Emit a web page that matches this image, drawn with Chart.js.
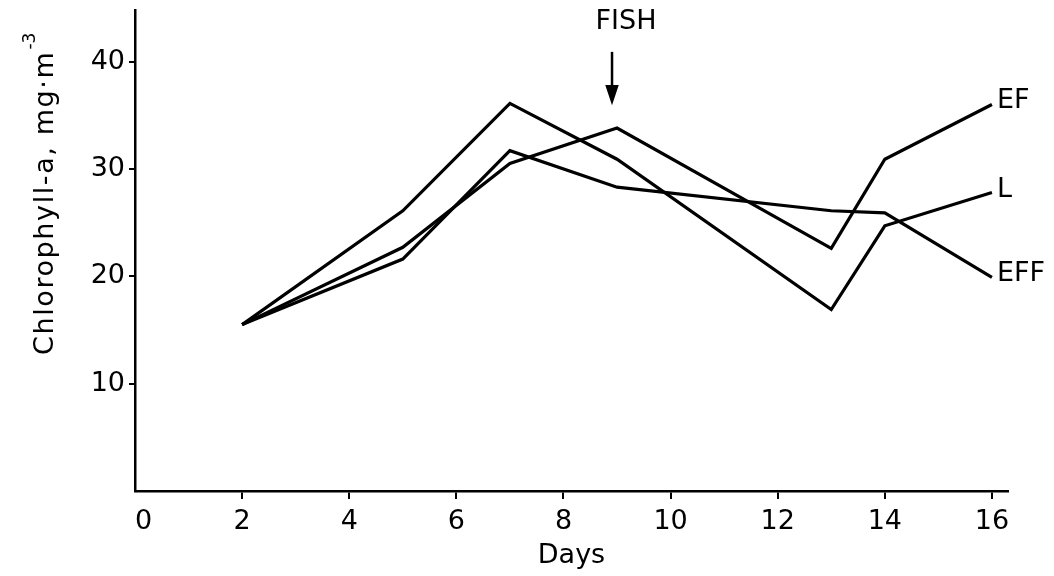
<!DOCTYPE html>
<html>
<head>
<meta charset="utf-8">
<script src="https://cdn.jsdelivr.net/npm/chart.js@4"></script>
<style>
html, body { margin: 0; background: #fff; }
#wrap { width: 1054px; height: 576px; }
</style>
</head>
<body>
<div id="wrap"><canvas id="chart"></canvas></div>
<script>
// values
const days = [2, 5, 7, 9, 13, 14, 16];
const efValues = [15.5, 22.7, 30.5, 33.8, 22.6, 30.9, 36.0];
const lValues = [15.5, 26.1, 36.1, 30.9, 16.9, 24.7, 27.8];
const effValues = [15.5, 21.6, 31.7, 28.3, 26.1, 25.9, 19.9];
const seriesNames = ['EF', 'L', 'EFF'];
const xTicks = [0, 2, 4, 6, 8, 10, 12, 14, 16];
const yTicks = [10, 20, 30, 40];
const fishDay = 9;

const FAMILY = 'DejaVu Sans';
const SIZE = 27;
const FONT = SIZE + 'px "' + FAMILY + '"';

Chart.defaults.color = '#000';
Chart.defaults.font.family = FAMILY;
Chart.defaults.font.size = SIZE;

function points(vals) {
    return days.map((d, i) => ({ x: d, y: vals[i] }));
}

const textPlugin = {
    id: 'textPlugin',
    afterDraw(chart) {
        const { ctx } = chart;
        const x = chart.scales.x;
        const y = chart.scales.y;
        ctx.save();
        ctx.fillStyle = '#000';
        ctx.strokeStyle = '#000';
        ctx.font = FONT;

        // names at the line ends
        ctx.textAlign = 'left';
        ctx.textBaseline = 'middle';
        chart.data.datasets.forEach(ds => {
            const last = ds.data[ds.data.length - 1];
            ctx.fillText(ds.label, x.getPixelForValue(last.x) + 5, y.getPixelForValue(last.y) - 3);
        });

        // FISH marker
        const fx = x.getPixelForValue(fishDay);
        ctx.textAlign = 'center';
        ctx.fillText('FISH', fx + 9, y.getPixelForValue(43.7));
        const ax = fx - 5;
        const top = y.getPixelForValue(40.9);
        const tip = y.getPixelForValue(36.3);
        ctx.lineWidth = 2.5;
        ctx.beginPath();
        ctx.moveTo(ax, top);
        ctx.lineTo(ax, tip - 3);
        ctx.stroke();
        ctx.beginPath();
        ctx.moveTo(ax - 5, tip - 15);
        ctx.lineTo(ax, tip);
        ctx.lineTo(ax + 5, tip - 15);
        ctx.closePath();
        ctx.fill();
        ctx.stroke();

        // y axis title with superscript
        ctx.translate(53, 355);
        ctx.rotate(-Math.PI / 2);
        ctx.textAlign = 'left';
        ctx.textBaseline = 'alphabetic';
        ctx.letterSpacing = '1.6px';
        const main = 'Chlorophyll-a, mg\u00b7m';
        ctx.fillText(main, 0, 0);
        const w = ctx.measureText(main).width;
        ctx.font = '17px "' + FAMILY + '"';
        ctx.letterSpacing = '0px';
        ctx.fillText('-3', w + 1, -18);
        ctx.restore();
    }
};

new Chart(document.getElementById('chart'), {
    type: 'line',
    data: {
        datasets: [
            { label: seriesNames[0], data: points(efValues) },
            { label: seriesNames[1], data: points(lValues) },
            { label: seriesNames[2], data: points(effValues) }
        ]
    },
    options: {
        responsive: true,
        maintainAspectRatio: false,
        animation: false,
        layout: { padding: { top: 10, right: 46, left: 0, bottom: 0 } },
        elements: {
            point: { radius: 0 },
            line: { borderColor: '#000', borderWidth: 3.2, tension: 0, fill: false }
        },
        plugins: {
            legend: { display: false },
            tooltip: { enabled: false }
        },
        scales: {
            x: {
                type: 'linear',
                min: 0,
                max: 16.3,
                afterBuildTicks: s => { s.ticks = xTicks.map(v => ({ value: v })); },
                afterFit: s => { s.height = 85; },
                ticks: {
                    autoSkip: false,
                    maxRotation: 0,
                    padding: 7,
                    callback: v => v === 0 ? '  0' : String(v)
                },
                grid: {
                    drawOnChartArea: false,
                    tickLength: 8,
                    lineWidth: 2,
                    color: c => (c.tick && c.tick.value === 0) ? 'rgba(0,0,0,0)' : '#000'
                },
                border: { color: '#000', width: 2.5 },
                title: { display: true, text: 'Days', padding: { top: 0, bottom: 4 } }
            },
            y: {
                min: 0,
                max: 44.8,
                afterBuildTicks: s => { s.ticks = yTicks.map(v => ({ value: v })); },
                afterFit: s => { s.width = 135; s.paddingTop = 0; s.paddingBottom = 0; },
                ticks: { padding: 4 },
                grid: { drawOnChartArea: false, tickLength: 6, lineWidth: 2, color: '#000' },
                border: { color: '#000', width: 2.5 }
            }
        }
    },
    plugins: [textPlugin]
});
</script>
</body>
</html>
